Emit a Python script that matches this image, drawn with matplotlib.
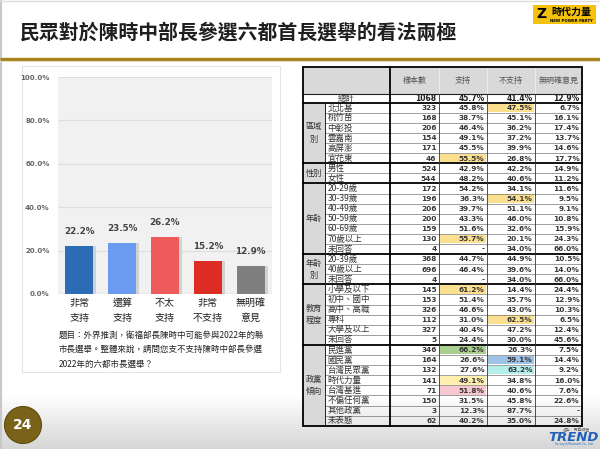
import matplotlib
matplotlib.use('Agg')
import matplotlib.pyplot as plt
from matplotlib.patches import Rectangle, Circle
from matplotlib.colors import LinearSegmentedColormap
import numpy as np

plt.rcParams['font.family'] = ['Noto Sans CJK TC', 'DejaVu Sans']

# ---------------- data ----------------
title = "民眾對於陳時中部長參選六都首長選舉的看法兩極"
categories = ["非常\n支持", "還算\n支持", "不太\n支持", "非常\n不支持", "無明確\n意見"]
values = [22.2, 23.5, 26.2, 15.2, 12.9]
bar_colors = ["#2d6cb5", "#6a9bf0", "#ee5b5b", "#dc2c24", "#7f7f7f"]
y_ticks = [0, 20, 40, 60, 80, 100]
support_total = 45.7
oppose_total = 41.4
question = ["題目：外界推測，衛福部長陳時中可能參與2022年的縣",
            "市長選舉。整體來說，請問您支不支持陳時中部長參選",
            "2022年的六都市長選舉？"]
page_no = "24"

table_header = ["樣本數", "支持", "不支持", "無明確意見"]
total_label = "總計"
total_row = ["1068", "45.7%", "41.4%", "12.9%"]

region_rows = [("北北基", "323", "45.8%", "47.5%", "6.7%"),
               ("桃竹苗", "168", "38.7%", "45.1%", "16.1%"),
               ("中彰投", "206", "46.4%", "36.2%", "17.4%"),
               ("雲嘉南", "154", "49.1%", "37.2%", "13.7%"),
               ("高屏澎", "171", "45.5%", "39.9%", "14.6%"),
               ("宜花東", "46", "55.5%", "26.8%", "17.7%")]
gender_rows = [("男性", "524", "42.9%", "42.2%", "14.9%"),
               ("女性", "544", "48.2%", "40.6%", "11.2%")]
age_rows = [("20-29歲", "172", "54.2%", "34.1%", "11.6%"),
            ("30-39歲", "196", "36.3%", "54.1%", "9.5%"),
            ("40-49歲", "206", "39.7%", "51.1%", "9.1%"),
            ("50-59歲", "200", "43.3%", "46.0%", "10.8%"),
            ("60-69歲", "159", "51.6%", "32.6%", "15.9%"),
            ("70歲以上", "130", "55.7%", "20.1%", "24.3%"),
            ("未回答", "4", "-", "34.0%", "66.0%")]
age2_rows = [("20-39歲", "368", "44.7%", "44.9%", "10.5%"),
             ("40歲以上", "696", "46.4%", "39.6%", "14.0%"),
             ("未回答", "4", "-", "34.0%", "66.0%")]
edu_rows = [("小學及以下", "145", "61.2%", "14.4%", "24.4%"),
            ("初中、國中", "153", "51.4%", "35.7%", "12.9%"),
            ("高中、高職", "326", "46.6%", "43.0%", "10.3%"),
            ("專科", "112", "31.0%", "62.5%", "6.5%"),
            ("大學及以上", "327", "40.4%", "47.2%", "12.4%"),
            ("未回答", "5", "24.4%", "30.0%", "45.6%")]
party_rows = [("民進黨", "346", "66.2%", "26.3%", "7.5%"),
              ("國民黨", "164", "26.6%", "59.1%", "14.4%"),
              ("台灣民眾黨", "132", "27.6%", "63.2%", "9.2%"),
              ("時代力量", "141", "49.1%", "34.8%", "16.0%"),
              ("台灣基進", "71", "51.8%", "40.6%", "7.6%"),
              ("不偏任何黨", "150", "31.5%", "45.8%", "22.6%"),
              ("其他政黨", "3", "12.3%", "87.7%", "-"),
              ("未表態", "62", "40.2%", "35.0%", "24.8%")]
groups = [("區域\n別", region_rows), ("性別", gender_rows), ("年齡", age_rows),
          ("年齡\n別", age2_rows), ("教育\n程度", edu_rows), ("政黨\n傾向", party_rows)]

# highlighted cells: (group index, row index, column index 0..3, colour)
highlights = [(0, 0, 2, "#fbe08f"), (0, 5, 1, "#fbe08f"),
              (2, 1, 2, "#fbe08f"), (2, 5, 1, "#fbe08f"),
              (4, 0, 1, "#fbe08f"), (4, 3, 2, "#fbe08f"),
              (5, 0, 1, "#a9d08e"), (5, 1, 2, "#9dc3e6"),
              (5, 2, 2, "#b4efec"), (5, 3, 1, "#fff0b0"),
              (5, 4, 1, "#f7c8cf")]

NUMFONT = 'DejaVu Sans'

# ---------------- figure ----------------
W, H = 600, 449
fig = plt.figure(figsize=(W / 100, H / 100), dpi=100)
fig.patch.set_facecolor('white')

ov = fig.add_axes([0, 0, 1, 1], zorder=0)
ov.set_axis_off()
ov.patch.set_visible(False)

# bottom gradient
grad = np.linspace(0, 1, 60).reshape(-1, 1)
cm = LinearSegmentedColormap.from_list('g', ['#ffffff', '#d6d6d6'])
ov.imshow(grad, extent=(0, W, H, 395), origin='upper', aspect='auto', cmap=cm, zorder=0)
ov.set_xlim(0, W)
ov.set_ylim(H, 0)

# slide border
ov.plot([1, 1], [0, H], color='#c8c8c8', lw=1.5, zorder=1)
ov.plot([0, W], [1, 1], color='#dddddd', lw=1, zorder=1)

# title + gold line
ov.text(20, 32, title, fontsize=14.3, fontweight='bold', color='#1e1e1e',
        ha='left', va='center', zorder=3)
ov.plot([0, W], [59, 59], color='#a8831c', lw=2.4, solid_capstyle='butt', zorder=3)
ov.plot([0, W], [61, 61], color='#e6dcc0', lw=0.8, zorder=3)

# logo
ov.add_patch(Rectangle((533, 5), 63, 19, facecolor='#f4c20d', edgecolor='none', zorder=3))
ov.text(541, 14.5, "Z", fontsize=10, fontweight='bold', color='black', ha='center',
        va='center', family='DejaVu Sans', zorder=4)
ov.text(571, 11.5, "時代力量", fontsize=7.2, fontweight='bold', color='black',
        ha='center', va='center', zorder=4)
ov.text(571, 20.5, "NEW POWER PARTY", fontsize=2.8, fontweight='bold', color='black',
        ha='center', va='center', family='DejaVu Sans', zorder=4)

# left card
ov.add_patch(Rectangle((22, 66), 258, 306, facecolor='white', edgecolor='#e4e4e4',
                       lw=0.8, zorder=1))

# ---------------- bar chart ----------------
ax = fig.add_axes([58 / W, 1 - 294 / H, 214 / W, 217 / H], zorder=2)
ax.set_facecolor('#f1f1f1')
x = np.arange(len(values))
ax.set_xlim(-0.5, len(values) - 0.5)
ax.set_ylim(0, 100)
ax.set_yticks(y_ticks)
ax.set_yticklabels([f"{v:.1f}%" for v in y_ticks], fontsize=5, color='#666666',
                   fontweight='bold', family='DejaVu Sans')
ax.yaxis.grid(True, color='#dedede', lw=0.8)
ax.set_axisbelow(True)
for s in ax.spines.values():
    s.set_visible(False)
ax.tick_params(length=0, pad=6)
ax.axhline(0, color='#9a9a9a', lw=0.8, zorder=3)
ax.bar(x + 0.07, values, width=0.65, color='#d2d2d2', zorder=1)
ax.bar(x, values, width=0.65, color=bar_colors, zorder=2)
for xi, v in zip(x, values):
    ax.annotate(f"{v:.1f}%", (xi, v), xytext=(0, 7), textcoords='offset points',
                ha='center', va='bottom', fontsize=6.3, fontweight='bold',
                color='#444444', family=NUMFONT)
ax.set_xticks(x)
ax.set_xticklabels(categories, fontsize=7.2, color='#222222', linespacing=1.65)
ax.tick_params(axis='x', pad=3)

# summary boxes
ov.add_patch(Rectangle((87, 159), 30, 31, facecolor='#2f6fc1', edgecolor='none', zorder=4))
ov.text(102, 168, "支持", fontsize=7.2, fontweight='bold', color='white', ha='center', va='center', zorder=5)
ov.text(102, 182, f"{support_total:.1f}%", fontsize=5.3, fontweight='bold', color='white',
        ha='center', va='center', family=NUMFONT, zorder=5)
ov.add_patch(Rectangle((172, 169), 31, 30, facecolor='#b21f1f', edgecolor='none', zorder=4))
ov.text(187.5, 178, "不支持", fontsize=7.2, fontweight='bold', color='white', ha='center', va='center', zorder=5)
ov.text(187.5, 191.5, f"{oppose_total:.1f}%", fontsize=5.3, fontweight='bold', color='white',
        ha='center', va='center', family=NUMFONT, zorder=5)

# question text
for i, line in enumerate(question):
    ov.text(59, 335 + i * 14.5, line, fontsize=6.1, color='#222222', ha='left',
            va='center', zorder=4)

# page number
ov.add_patch(Circle((23, 425), 18.5, facecolor='#7a6318', edgecolor='#5e4c10', lw=0.8, zorder=4))
ov.text(23, 425, page_no, fontsize=10, fontweight='bold', color='white', ha='center',
        va='center', family='DejaVu Sans', zorder=5)

# ---------------- table ----------------
xe = [303, 325, 390, 439, 487, 535, 582]
y_top, y_head, y_tot = 67, 94, 102.7
n_rows = sum(len(r) for _, r in groups)
y_bot = 425.7
rh = (y_bot - y_tot) / n_rows
Z = 3
# header
ov.add_patch(Rectangle((xe[0], y_top), xe[-1] - xe[0], y_head - y_top,
                       facecolor='#d9d9d9', edgecolor='none', zorder=Z))
for j, h in enumerate(table_header):
    ov.text((xe[j + 2] + xe[j + 3]) / 2, (y_top + y_head) / 2, h, fontsize=5.8,
            color='#555555', ha='center', va='center', zorder=Z + 2)
for xv in xe[2:-1]:
    ov.plot([xv, xv], [y_top, y_head], color='#efefef', lw=0.6, zorder=Z + 1)
# total row
ov.text((xe[0] + xe[2]) / 2, (y_head + y_tot) / 2, total_label, fontsize=6,
        color='#333333', ha='center', va='center', zorder=Z + 2)
for j, v in enumerate(total_row):
    ov.text(xe[j + 3] - 2.5, (y_head + y_tot) / 2 + 0.3, v, fontsize=5.5, fontweight='bold',
            color='#222222', ha='right', va='center', family=NUMFONT, zorder=Z + 2)

hl = {(g, r, c): col for g, r, c, col in highlights}
y = y_tot
group_bounds = []
for gi, (gname, rows) in enumerate(groups):
    gh = rh * len(rows)
    ov.add_patch(Rectangle((xe[0], y), xe[1] - xe[0], gh, facecolor='#d9d9d9',
                           edgecolor='none', zorder=Z))
    ov.text((xe[0] + xe[1]) / 2, y + gh / 2, gname, fontsize=5.9, color='#333333',
            ha='center', va='center', linespacing=1.5, zorder=Z + 2)
    for ri, row in enumerate(rows):
        yr = y + ri * rh
        for c in range(4):
            if (gi, ri, c) in hl:
                ov.add_patch(Rectangle((xe[c + 2] + 1, yr + 0.8), xe[c + 3] - xe[c + 2] - 2,
                                       rh - 1.6, facecolor=hl[(gi, ri, c)],
                                       edgecolor='none', zorder=Z))
        ov.text(xe[1] + 2.5, yr + rh / 2, row[0], fontsize=6.1, color='#333333',
                ha='left', va='center', zorder=Z + 2)
        for c in range(4):
            ov.text(xe[c + 3] - 2.5, yr + rh / 2 + 0.3, row[c + 1], fontsize=5.3,
                    fontweight='bold', color='#363636', ha='right', va='center',
                    family=NUMFONT, zorder=Z + 2)
        if ri > 0:
            ov.plot([xe[1], xe[-1]], [yr, yr], color='#555555', lw=0.4, zorder=Z + 1)
    y += gh
    group_bounds.append(y)

# lines
lw_thick = 1.3
ov.plot([xe[0], xe[-1]], [y_head, y_head], color='#222222', lw=0.8, zorder=Z + 1)
ov.plot([xe[0], xe[-1]], [y_tot, y_tot], color='black', lw=lw_thick, zorder=Z + 1)
for yb in group_bounds[:-1]:
    ov.plot([xe[0], xe[-1]], [yb, yb], color='black', lw=lw_thick, zorder=Z + 1)
ov.plot([xe[1], xe[1]], [y_tot, y_bot], color='#222222', lw=0.7, zorder=Z + 1)
ov.plot([xe[2], xe[2]], [y_top, y_bot], color='black', lw=lw_thick, zorder=Z + 1)
for xv in xe[3:-1]:
    ov.plot([xv, xv], [y_head, y_bot], color='#333333', lw=0.6, zorder=Z + 1)
ov.add_patch(Rectangle((xe[0], y_top), xe[-1] - xe[0], y_bot - y_top, facecolor='none',
                       edgecolor='black', lw=lw_thick, zorder=Z + 2))

# survey logo
ov.text(590, 429.5, "趨勢・民意調查", fontsize=2.8, color='#666666', ha='right', va='center', zorder=5)
ov.text(574, 437.5, "TREND", fontsize=9.5, fontweight='bold', fontstyle='italic',
        color='#2060b8', ha='center', va='center', family='DejaVu Sans', zorder=5)
ov.text(574, 444.5, "Survey & Research Co., Ltd.", fontsize=2, color='#2060b8',
        ha='center', va='center', family='DejaVu Sans', zorder=5)

fig.savefig('out.png', dpi=100)
